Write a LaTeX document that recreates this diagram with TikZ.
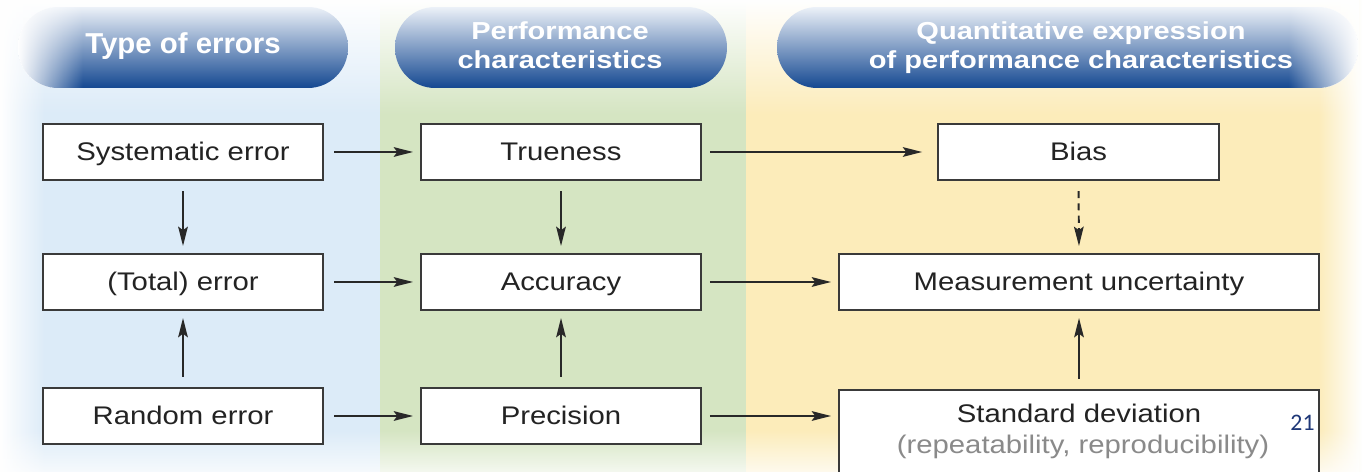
\documentclass[tikz,border=0pt]{standalone}
\usepackage{fontspec}
\setmainfont{Liberation Sans}
\newfontfamily\boxfont[FakeStretch=1.15]{Liberation Sans}
\newfontfamily\headfont[FakeStretch=1.18]{Liberation Sans}
\newfontfamily\headfontw[FakeStretch=1.02]{Liberation Sans}
\newfontfamily\numfont{Carlito}
\usetikzlibrary{arrows.meta,fadings}
\definecolor{bluebg}{RGB}{220,235,248}
\definecolor{greenbg}{RGB}{213,229,194}
\definecolor{yellowbg}{RGB}{252,236,186}
\definecolor{pilltop}{RGB}{236,241,248}
\definecolor{pillmid}{RGB}{88,126,184}
\definecolor{pillbot}{RGB}{20,72,145}
\definecolor{boxline}{RGB}{58,58,58}
\definecolor{boxtext}{RGB}{35,35,35}
\definecolor{arrowc}{RGB}{40,40,40}
\definecolor{graytext}{RGB}{138,138,138}
\definecolor{navy}{RGB}{31,56,120}
\tikzfading[name=fadeS, top color=transparent!0, bottom color=transparent!100]
\tikzfading[name=fadeN, top color=transparent!100, bottom color=transparent!0]
\tikzfading[name=fadeE, left color=transparent!0, right color=transparent!100]
\tikzfading[name=fadeW, left color=transparent!100, right color=transparent!0]
\begin{document}
\begin{tikzpicture}[x=0.02cm,y=-0.02cm,
  box/.style={draw=boxline, line width=1.1pt, fill=white, minimum width=5.6cm,
    minimum height=1.12cm, inner sep=0pt, text=boxtext,
    font=\boxfont\fontsize{14.5}{17}\selectfont, text height=11.5pt, text depth=2pt},
  pill/.style={rectangle, rounded corners=0.8cm, minimum height=1.62cm, inner sep=0pt,
    top color=pilltop, middle color=pillmid, bottom color=pillbot},
  headtxt/.style={text=white, align=center, inner sep=0pt,
    font=\headfont\bfseries\fontsize{14}{16.4}\selectfont},
  arr/.style={draw=arrowc, line width=1.1pt, -{Stealth[length=11pt,width=5.5pt,inset=2pt]},
    shorten <=5.8pt, shorten >=4pt},
  sdtext/.style={inner sep=0pt, font=\boxfont\fontsize{14.5}{17}\selectfont}
]
\useasboundingbox (0,0) rectangle (1362,472);
\begin{scope}
\clip (0,0) rectangle (1362,472);
% background bands
\fill[bluebg] (0,0) rectangle (380,472);
\fill[greenbg] (380,0) rectangle (746,472);
\fill[yellowbg] (746,0) rectangle (1362,472);
\fill[white, path fading=fadeS] (0,0) rectangle (1362,115);
\fill[white, path fading=fadeE] (0,0) rectangle (45,472);
\fill[white, path fading=fadeW] (1318,0) rectangle (1362,472);
\fill[white, path fading=fadeN, fill opacity=0.75] (0,430) rectangle (1362,472);

% header pills
\node[pill, minimum width=6.6cm] (p1) at (183,47.5) {};
\node[pill, minimum width=6.64cm] (p2) at (561,47.5) {};
\node[pill, minimum width=11.62cm] (p3) at (1067.5,47.5) {};
\begin{scope}
\clip[rounded corners=0.8cm] (p1.south west) rectangle (p1.north east);
\fill[white, path fading=fadeE] (p1.south west) rectangle ([xshift=1.3cm]p1.north west);
\end{scope}
\begin{scope}
\clip[rounded corners=0.8cm] (p3.south west) rectangle (p3.north east);
\fill[white, path fading=fadeW] ([xshift=-1.4cm]p3.south east) rectangle (p3.north east);
\end{scope}
\node[headtxt, font=\headfontw\bfseries\fontsize{16.4}{19}\selectfont] (t1) at (183,46.5) {Type of errors};
\node[headtxt] (t2) at (560,45) {Performance\\characteristics};
\node[headtxt] (t3) at (1081,47.5) {Quantitative expression\\of performance characteristics};

% boxes
\node[box] (sys) at (183,152) {Systematic error};
\node[box] (tru) at (561,152) {Trueness};
\node[box, minimum width=5.62cm] (bias) at (1078.5,152) {Bias};
\node[box] (tot) at (183,282) {(Total) error};
\node[box] (acc) at (561,282) {Accuracy};
\node[box, minimum width=9.6cm] (mu) at (1079,282) {Measurement uncertainty};
\node[box] (ran) at (183,416) {Random error};
\node[box] (prec) at (561,416) {Precision};
\node[box, anchor=north, minimum width=9.6cm, minimum height=2.2cm] (sd) at (1079,389) {};
\node[sdtext, text=boxtext, anchor=base] (sdt) at (1079,423) {Standard deviation};
\node[sdtext, text=graytext, anchor=base] (sdr) at (1083,454) {(repeatability, reproducibility)};
\node[inner sep=0pt, anchor=base, text=navy, font=\numfont\fontsize{13.5}{16}\selectfont] (pg) at (1302.5,431) {21};

% horizontal arrows
\draw[arr] (sys.east) -- (tru.west);
\draw[arr, shorten <=4.5pt, shorten >=8.5pt] (tru.east) -- (bias.west);
\draw[arr] (tot.east) -- (acc.west);
\draw[arr, shorten <=4.5pt] (acc.east) -- (mu.west);
\draw[arr] (ran.east) -- (prec.west);
\draw[arr, shorten <=4.5pt] (prec.east) -- (prec.east -| sd.west);
% vertical arrows
\draw[arr] (sys.south) -- (tot.north);
\draw[arr] (ran.north) -- (tot.south);
\draw[arr] (tru.south) -- (acc.north);
\draw[arr] (prec.north) -- (acc.south);
\draw[arr, dash pattern=on 4pt off 3pt] (bias.south) -- (mu.north);
\draw[arr] (sd.north) -- (mu.south);
\end{scope}
\end{tikzpicture}
\end{document}
